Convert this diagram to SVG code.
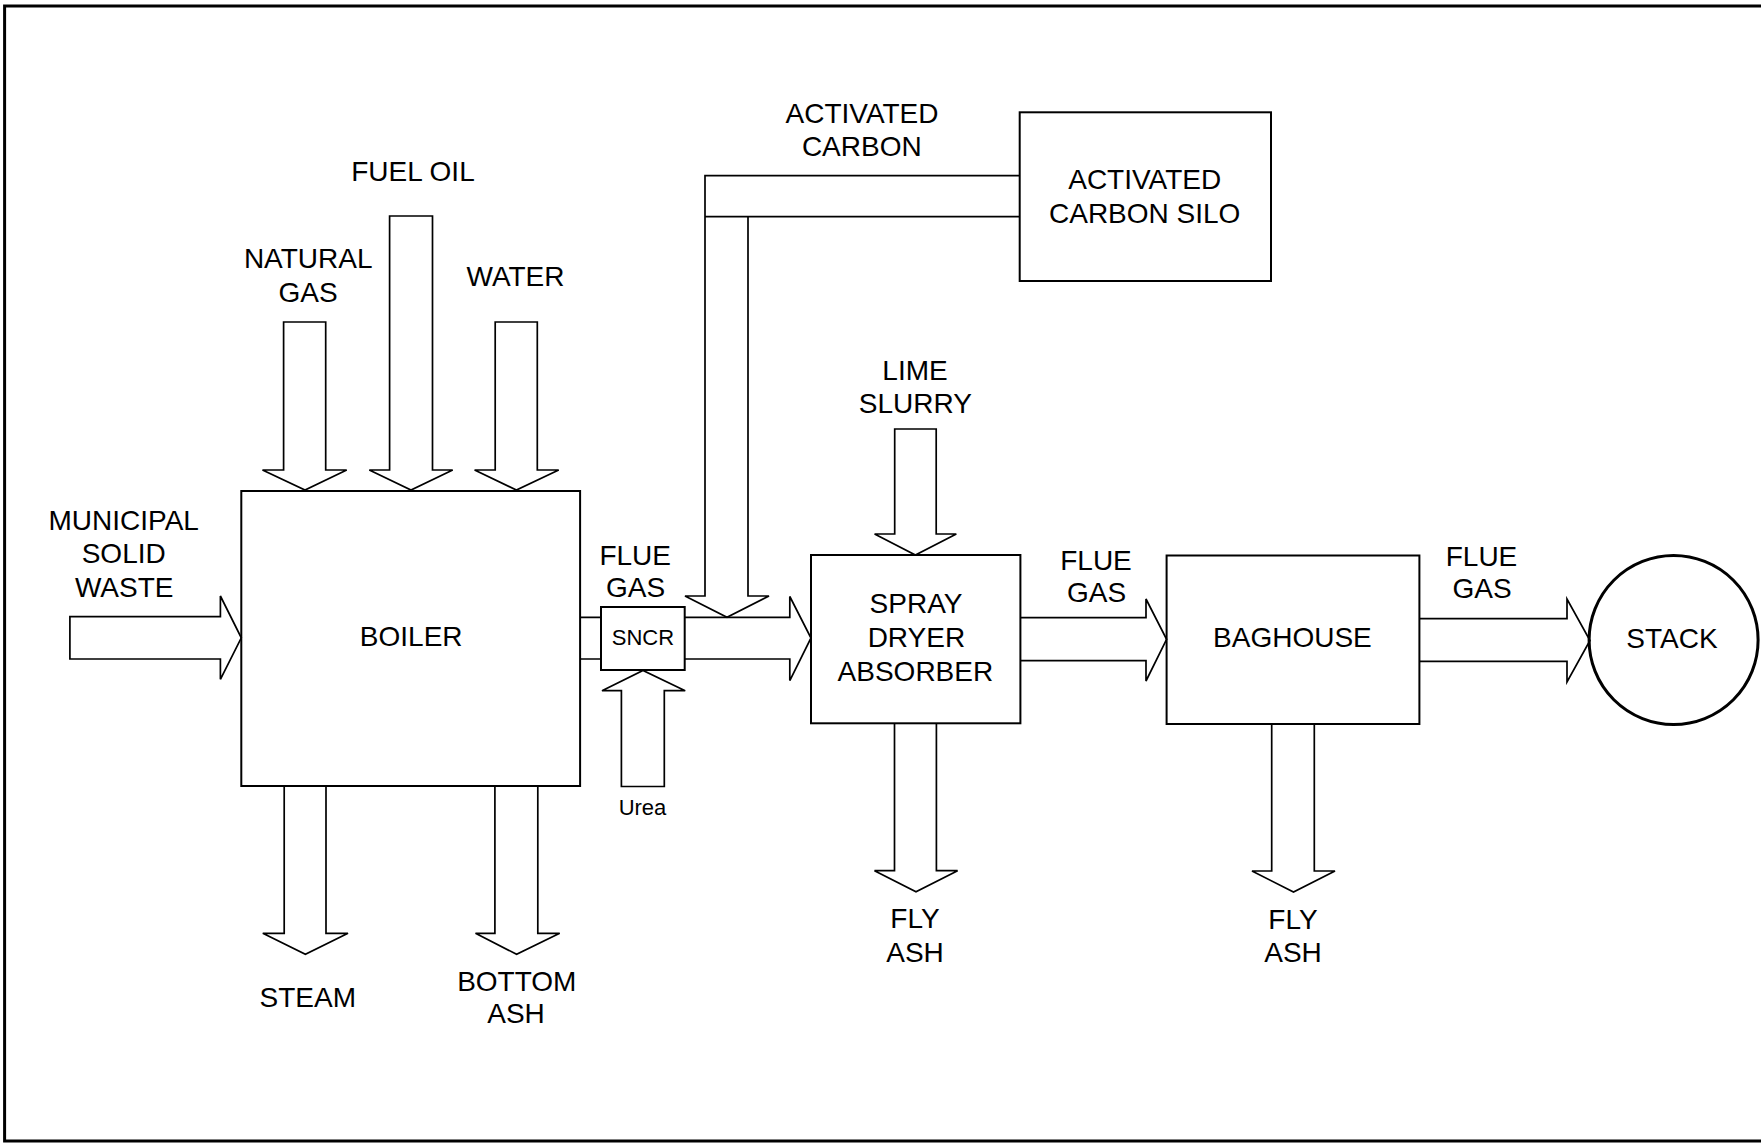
<svg xmlns="http://www.w3.org/2000/svg" width="1761" height="1143" viewBox="0 0 1761 1143">
<style>
.box{fill:none;stroke:#000;stroke-width:2}
.arr{fill:none;stroke:#000;stroke-width:1.7;stroke-linejoin:miter}
.frame{fill:none;stroke:#000;stroke-width:3}
text{font-family:"Liberation Sans",Arial,sans-serif;font-size:28px;fill:#000;text-anchor:middle}
.sm{font-size:22px}
</style>
<rect width="1761" height="1143" fill="#fff"/>
<path class="frame" d="M1761,6 H4.6 V1141 H1761"/>
<g id="connectors">
<path id="msw" class="arr" d="M69.9,616.7 H220.4 V596 L241.3,637.8 L220.4,679.3 V659 H69.9 Z"/>
<path id="natgas" class="arr" d="M283.6,322 V470 H262.5 L305,490 L346.7,470 H325.7 V322 Z"/>
<path id="fueloil" class="arr" d="M389.6,216 V470 H369.3 L411,490 L452.7,470 H432.5 V216 Z"/>
<path id="water" class="arr" d="M495.2,322 V470 H474.6 L516.4,490 L558.7,470 H537.3 V322 Z"/>
<path id="steam" class="arr" d="M284.2,786 V933.3 H262.8 L305.4,954.3 L348,933.3 H326 V786"/>
<path id="bottomash" class="arr" d="M494.9,786 V933.3 H475.5 L516.6,954.3 L559.7,933.3 H537.8 V786"/>
<path id="flue1" class="arr" d="M580.1,617.3 H601 M580.1,659 H601"/>
<path id="flue2" class="arr" d="M684.7,617.3 H789.8 V596.5 L811,638 L789.8,680.6 V659 H684.7"/>
<path id="accarbon" class="arr" d="M1019.7,175.7 H705 V596 H685 L727,617.3 L769,596 H748 V216.7 H1019.7 M705,216.7 H748"/>
<path id="urea" class="arr" d="M621.4,786.5 V690.7 H602 L643,670.5 L685.2,690.7 H664.3 V786.5 Z"/>
<path id="lime" class="arr" d="M894.7,429 V534 H874.6 L915.4,555 L956.3,534 H936.2 V429 Z"/>
<path id="flue3" class="arr" d="M1020.4,617.7 H1146 V599 L1166.6,639.3 L1146,681 V660.7 H1020.4"/>
<path id="flyash1" class="arr" d="M894.5,723.3 V870.7 H874.5 L916,891.7 L957.6,870.7 H936.4 V723.3"/>
<path id="flyash2" class="arr" d="M1271.7,724 V871 H1252 L1293.5,892 L1335,871 H1314.3 V724"/>
<path id="flue4" class="arr" d="M1419.4,618.7 H1567 V599 L1590,640.5 L1567,682 V661.3 H1419.4"/>
</g>
<g id="boiler"><rect class="box" x="241.3" y="491" width="338.8" height="295"/><text x="411.2" y="645.7">BOILER</text></g>
<g id="sncr"><rect class="box" x="601" y="607" width="83.7" height="63"/><text class="sm" x="642.9" y="645">SNCR</text></g>
<g id="sda"><rect class="box" x="811" y="555" width="209.4" height="168.3"/><text x="916" y="612.7">SPRAY</text><text x="916.4" y="646.7">DRYER</text><text x="915.4" y="680.7">ABSORBER</text></g>
<g id="baghouse"><rect class="box" x="1166.6" y="555.5" width="252.8" height="168.5"/><text x="1292.4" y="646.7">BAGHOUSE</text></g>
<g id="silo"><rect class="box" x="1019.7" y="112.3" width="251.3" height="168.7"/><text x="1144.7" y="189.3">ACTIVATED</text><text x="1144.7" y="222.7">CARBON SILO</text></g>
<g id="stack"><circle cx="1673.6" cy="640" r="84.5" fill="none" stroke="#000" stroke-width="3"/><text x="1672" y="648.3">STACK</text></g>
<g id="labels">
<text x="413" y="181">FUEL OIL</text>
<text x="308.2" y="268">NATURAL</text><text x="308" y="302">GAS</text>
<text x="515.5" y="286">WATER</text>
<text x="123.7" y="530">MUNICIPAL</text><text x="123.7" y="563.3">SOLID</text><text x="124.2" y="597.3">WASTE</text>
<text x="635.2" y="565">FLUE</text><text x="635.5" y="596.7">GAS</text>
<text class="sm" x="642.5" y="815">Urea</text>
<text x="862" y="123.3">ACTIVATED</text><text x="861.8" y="156">CARBON</text>
<text x="915" y="380">LIME</text><text x="915.3" y="413.3">SLURRY</text>
<text x="1096" y="570">FLUE</text><text x="1096.5" y="602">GAS</text>
<text x="1481.5" y="565.7">FLUE</text><text x="1482" y="598.3">GAS</text>
<text x="307.8" y="1006.7">STEAM</text>
<text x="516.8" y="990.7">BOTTOM</text><text x="516" y="1023.3">ASH</text>
<text x="915" y="928.3">FLY</text><text x="915" y="961.7">ASH</text>
<text x="1293" y="929">FLY</text><text x="1293" y="962">ASH</text>
</g>
</svg>
